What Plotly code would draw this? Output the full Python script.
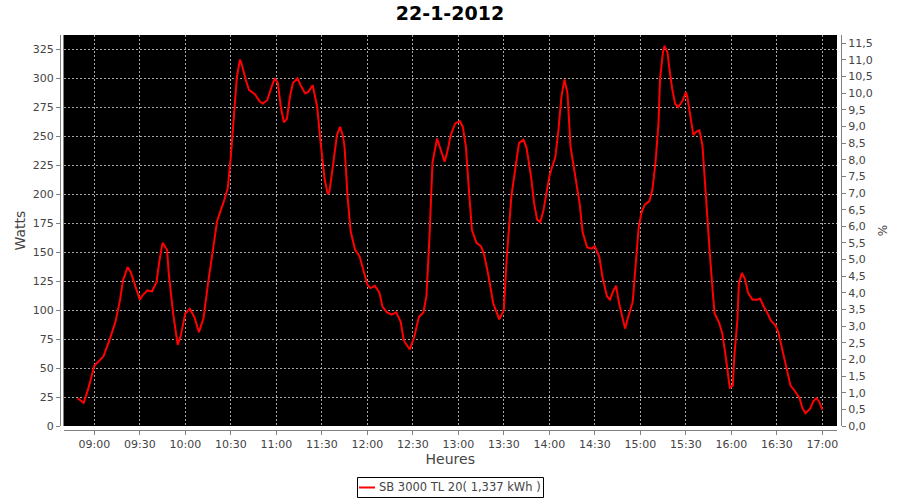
import plotly.graph_objects as go

DATE = "2012-01-22"
TITLE = "22-1-2012"
SERIES_NAME = "SB 3000 TL 20( 1,337 kWh )"

times = [
    "08:49", "08:53", "08:56", "09:00", "09:06", "09:10", "09:14", "09:17", "09:19", "09:22",
    "09:24", "09:27", "09:30", "09:32", "09:35", "09:38", "09:41", "09:43", "09:45", "09:48",
    "09:49", "09:52", "09:55", "09:57", "10:00", "10:03", "10:06", "10:09", "10:12", "10:15",
    "10:19", "10:21", "10:25", "10:28", "10:30", "10:31", "10:34", "10:36", "10:37", "10:40",
    "10:42", "10:46", "10:49", "10:51", "10:54", "10:57", "10:59", "11:01", "11:03", "11:05",
    "11:07", "11:09", "11:11", "11:14", "11:16", "11:19", "11:21", "11:24", "11:27", "11:29",
    "11:32", "11:34", "11:35", "11:37", "11:40", "11:42", "11:44", "11:45", "11:47", "11:49",
    "11:52", "11:55", "11:57", "12:00", "12:02", "12:05", "12:08", "12:10", "12:13", "12:16",
    "12:19", "12:22", "12:24", "12:28", "12:31", "12:34", "12:37", "12:39", "12:41", "12:43",
    "12:46", "12:48", "12:51", "12:53", "12:55", "12:58", "13:01", "13:03", "13:05", "13:07",
    "13:09", "13:12", "13:15", "13:17", "13:20", "13:23", "13:26", "13:27", "13:30", "13:32",
    "13:35", "13:38", "13:40", "13:43", "13:45", "13:48", "13:50", "13:52", "13:54", "13:56",
    "13:58", "14:00", "14:02", "14:04", "14:06", "14:08", "14:10", "14:12", "14:14", "14:17",
    "14:20", "14:22", "14:25", "14:28", "14:30", "14:33", "14:35", "14:38", "14:40", "14:42",
    "14:44", "14:46", "14:49", "14:50", "14:52", "14:55", "14:57", "14:59", "15:01", "15:03",
    "15:06", "15:08", "15:10", "15:12", "15:13", "15:15", "15:16", "15:18", "15:19", "15:21",
    "15:23", "15:25", "15:28", "15:30", "15:31", "15:33", "15:35", "15:37", "15:39", "15:41",
    "15:42", "15:44", "15:46", "15:48", "15:49", "15:52", "15:54", "15:56", "15:58", "15:59",
    "16:01", "16:02", "16:04", "16:05", "16:07", "16:09", "16:11", "16:14", "16:17", "16:19",
    "16:21", "16:24", "16:26", "16:29", "16:31", "16:33", "16:36", "16:39", "16:42", "16:45",
    "16:47", "16:49", "16:52", "16:54", "16:56", "16:58", "17:00",
]

watts = [
    24, 20, 32, 52, 60, 74, 90, 109, 126, 137,
    133, 120, 109, 113, 117, 116, 124, 143, 158, 152,
    133, 97, 70, 78, 97, 101, 94, 81, 93, 123,
    161, 177, 192, 205, 232, 250, 301, 316, 313, 298,
    290, 286, 280, 278, 281, 293, 300, 296, 275, 262,
    265, 284, 296, 300, 294, 287, 288, 294, 275, 247,
    212, 200, 202, 221, 251, 258, 250, 241, 198, 168,
    152, 146, 136, 122, 119, 121, 115, 103, 98, 96,
    98, 90, 74, 66, 77, 94, 98, 112, 163, 227,
    248, 240, 228, 238, 251, 261, 263, 258, 241, 204,
    169, 158, 155, 148, 129, 106, 96, 92, 100, 146,
    198, 227, 244, 247, 240, 215, 192, 178, 176, 185,
    201, 215, 224, 232, 255, 284, 299, 287, 241, 218,
    192, 167, 154, 153, 155, 146, 129, 112, 109, 116,
    121, 106, 89, 84, 94, 107, 140, 172, 185, 191,
    194, 204, 227, 261, 299, 323, 328, 322, 310, 291,
    278, 275, 281, 288, 284, 268, 251, 254, 255, 242,
    221, 184, 146, 112, 97, 89, 80, 63, 43, 33,
    35, 60, 91, 123, 132, 127, 115, 109, 109, 110,
    104, 97, 91, 87, 81, 70, 54, 35, 30, 24,
    15, 11, 15, 21, 24, 21, 14,
]

x_range = ["08:39:42", "17:09:42"]
watts_range = [0, 337.3]
pct_range = [0, 11.75]

x = [f"{DATE} {t}" for t in times]

# plotting area in pixels (inside margins)
L, R, T, B = 60, 841, 35, 430
PW, PH = R - L, B - T


def px(xp):
    return (xp - L) / PW


def py(yp):
    return (B - yp) / PH


fig = go.Figure()
fig.add_trace(go.Scatter(
    x=x, y=watts, mode="lines", name=SERIES_NAME,
    line=dict(color="#ff0000", width=2), showlegend=False,
))
fig.add_trace(go.Scatter(
    x=[x[0]], y=[None], yaxis="y2", mode="lines",
    showlegend=False, hoverinfo="skip",
))

AX = "#808080"
TXT = "#444444"
GRID = "#a8a8a8"

# manual legend (box, symbol, text)
fig.add_shape(type="rect", xref="paper", yref="paper",
              x0=px(357.5), x1=px(543.5), y0=py(497.5), y1=py(477.5),
              line=dict(color="black", width=1), fillcolor="white", layer="above")
fig.add_shape(type="line", xref="paper", yref="paper",
              x0=px(359), x1=px(375), y0=py(487.5), y1=py(487.5),
              line=dict(color="#ff0000", width=2), layer="above")
fig.add_annotation(text=SERIES_NAME, xref="paper", yref="paper",
                   x=px(377), y=py(487.5), xanchor="left", yanchor="middle",
                   showarrow=False, font=dict(size=11.5, color=TXT))

fig.update_layout(
    width=900, height=500,
    margin=dict(l=L, r=900 - R, t=T, b=500 - B, autoexpand=False),
    paper_bgcolor="white", plot_bgcolor="black",
    separators=",.",
    font=dict(family="DejaVu Sans", size=11, color=TXT),
    title=dict(text=f"<b>{TITLE}</b>", x=0.5, xanchor="center",
               y=1 - 13.5 / 500, yanchor="middle",
               font=dict(family="DejaVu Sans", size=19, color="black")),
    xaxis=dict(
        domain=[px(63.5), px(837)], anchor="free", position=0,
        type="date", range=[f"{DATE} {x_range[0]}", f"{DATE} {x_range[1]}"],
        tickformat="%H:%M", dtick=30 * 60 * 1000, tick0=f"{DATE} 09:00",
        showline=True, linecolor=AX, linewidth=1,
        ticks="outside", ticklen=4, tickcolor=AX,
        showgrid=True, gridcolor=GRID, griddash="2px,2px", gridwidth=1,
        zeroline=False, automargin=False,
        title=dict(text="Heures", font=dict(size=14, color=TXT), standoff=3),
    ),
    yaxis=dict(
        domain=[py(426), 1], anchor="free", position=0,
        range=watts_range, dtick=25, tick0=0,
        showline=True, linecolor=AX, linewidth=1,
        ticks="outside", ticklen=4, tickcolor=AX,
        showgrid=True, gridcolor=GRID, griddash="2px,2px", gridwidth=1,
        zeroline=False, automargin=False,
        title=dict(text="Watts", font=dict(size=14, color=TXT), standoff=2),
    ),
    yaxis2=dict(
        overlaying="y", side="right", anchor="free", position=1,
        range=pct_range, dtick=0.5, tick0=0, tickformat=".1f",
        showline=True, linecolor=AX, linewidth=1,
        ticks="outside", ticklen=4, tickcolor=AX,
        showgrid=False, zeroline=False, automargin=False,
        title=dict(text="%", font=dict(size=12, color=TXT), standoff=6),
    ),
    showlegend=False,
)

fig.write_html("out.html", config={"displayModeBar": False},
               post_script="document.body.style.margin='0';")
